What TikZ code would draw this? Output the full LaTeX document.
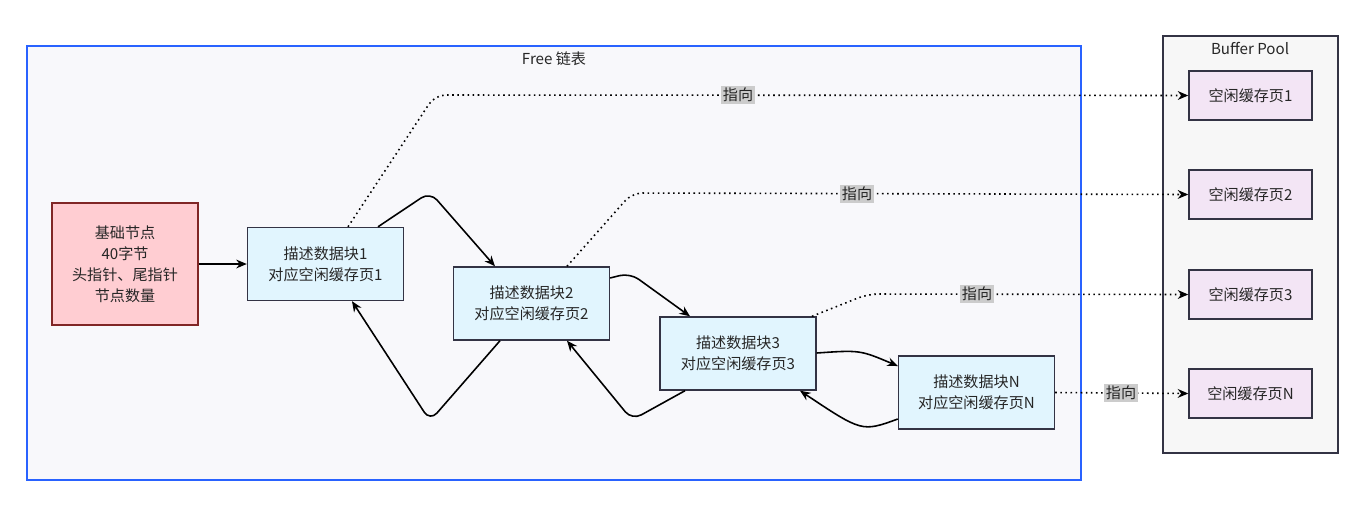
\documentclass[tikz,border=0pt]{standalone}
\usepackage{fontspec}
\setmainfont{Noto Sans CJK SC}
\usetikzlibrary{arrows.meta}
\definecolor{frameblue}{HTML}{2962FF}
\definecolor{bgpanel}{HTML}{F8F8FB}
\definecolor{pinkf}{HTML}{FFCDD2}
\definecolor{bluef}{HTML}{E1F5FE}
\definecolor{purf}{HTML}{F3E5F5}
\definecolor{edge}{HTML}{333344}
\begin{document}
\begin{tikzpicture}[x=0.02cm,y=-0.02cm,
  every node/.style={font=\fontsize{8.6}{12}\selectfont, text=black!85},
  box/.style={draw=edge, line width=0.8pt, align=center, inner sep=0pt},
  arr/.style={-{Stealth[length=6pt,width=5pt]}, line width=0.9pt, black, rounded corners=6pt},
  dot/.style={-{Stealth[length=6pt,width=5pt]}, line width=0.9pt, black, dotted},
  lab/.style={fill=black!20, inner sep=1pt}]
\useasboundingbox (0,0) rectangle (1366,515);
\fill[white] (0,0) rectangle (1366,515);
% containers
\node[box, draw=frameblue, line width=1.2pt, fill=bgpanel, minimum width=1054*0.02cm, minimum height=434*0.02cm] (free) at (554,263) {};
\node (freel) at (554,59) {Free 链表};
\node[box, fill=black!3, minimum width=175*0.02cm, minimum height=417*0.02cm] (pool) at (1250.5,244.5) {};
\node (pooll) at (1250,48) {Buffer Pool};
% nodes
\node[box, draw=black!50!red!70!gray, fill=pinkf, minimum width=146*0.02cm, minimum height=122*0.02cm] (base) at (125,264) {基础节点\\40字节\\头指针、尾指针\\节点数量};
\tikzset{blk/.style={box, fill=bluef, minimum width=156*0.02cm, minimum height=73*0.02cm},
         pg/.style={box, fill=purf, minimum width=123*0.02cm, minimum height=49*0.02cm}}
\node[blk] (b1) at (325.5,264) {描述数据块1\\对应空闲缓存页1};
\node[blk] (b2) at (531.5,303.5) {描述数据块2\\对应空闲缓存页2};
\node[blk] (b3) at (738,353.5) {描述数据块3\\对应空闲缓存页3};
\node[blk] (bn) at (976.5,392.5) {描述数据块N\\对应空闲缓存页N};
\node[pg] (p1) at (1250.5,95.5) {空闲缓存页1};
\node[pg] (p2) at (1250.5,194.5) {空闲缓存页2};
\node[pg] (p3) at (1250.5,294.5) {空闲缓存页3};
\node[pg] (pn) at (1250.5,393.5) {空闲缓存页N};
% solid connectors
\draw[arr] (base.east) -- (b1.west);
\draw[arr] (b1.north -| 378,0) -- (430,192) -- (b2.north -| 495,0);
\draw[arr] (b2.south -| 500,0) -- (430,421) -- (b1.south -| 352,0);
\draw[arr] (b2.east |- 0,278) -- (630,273) -- (b3.north -| 690,0);
\draw[arr] (b3.south -| 685,0) -- (632,420) -- (b2.south -| 567,0);
\draw[arr] (b3.east |- 0,353) .. controls (860,350) .. (bn.north west |- 0,366);
\draw[arr] (bn.west |- 0,419) .. controls (862,432) .. (b3.south -| 800,0);
% dotted
\draw[dot, rounded corners=6pt] (b1.north -| 348,0) -- (435,95) -- (p1.west);
\node[lab] at (738,95) {指向};
\draw[dot, rounded corners=6pt] (b2.north -| 567,0) -- (632,193) -- (p2.west);
\node[lab] at (857,194) {指向};
\draw[dot, rounded corners=6pt] (b3.north -| 812,0) -- (868,294) -- (p3.west);
\node[lab] at (977,294) {指向};
\draw[dot] (bn.east) -- (pn.west);
\node[lab] at (1121,393) {指向};
\end{tikzpicture}
\end{document}
